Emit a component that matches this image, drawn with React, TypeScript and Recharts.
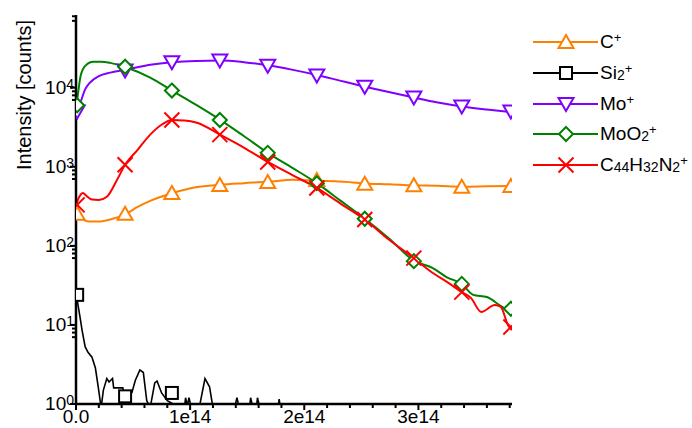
import React from 'react';
import { ComposedChart, Line, XAxis, YAxis, Legend } from 'recharts';

// x values are in units of 1e14
const xTicks = [0, 0.2, 0.4, 0.6, 0.8, 1, 1.2, 1.4, 1.6, 1.8, 2, 2.2, 2.4, 2.6, 2.8, 3, 3.2, 3.4, 3.6, 3.8];
const xLabels = ['0.0', '1e14', '2e14', '3e14'];
const yTicks = [
  1, 7, 8, 9, 10, 70, 80, 90, 100, 700, 800, 900, 1000, 7000, 8000, 9000, 10000, 70000, 80000,
];
const yMajor = [1, 10, 100, 1000, 10000];

const cLine = [
  [0, 265], [0.03, 235], [0.07, 212], [0.12, 203], [0.2, 203], [0.3, 215], [0.43, 250], [0.54, 310],
  [0.66, 375], [0.84, 462], [1.05, 550], [1.26, 592], [1.47, 620], [1.68, 645], [1.9, 685], [2.11, 665],
  [2.32, 650], [2.53, 615], [2.74, 600], [2.96, 582], [3.17, 575], [3.38, 560], [3.6, 565], [3.82, 570],
];
const cMarks = [
  [0.01, 255], [0.43, 255], [0.84, 465], [1.26, 590], [1.68, 640], [2.11, 680], [2.53, 610], [2.96, 585], [3.38, 560], [3.81, 570],
];

const si2Line = [
  [0, 25], [0.02, 17], [0.035, 12.6], [0.053, 8.6], [0.08, 5.3], [0.105, 4.5], [0.14, 3.9], [0.17, 2.85],
  [0.195, 1.64], [0.22, 0.9], [0.24, 1.5], [0.27, 2.1], [0.29, 1.9], [0.32, 2.1], [0.33, 1.6], [0.41, 1.6],
  [0.42, 1.4], [0.49, 1.4], [0.52, 2.0], [0.56, 2.7], [0.59, 2.5], [0.62, 1.1], [0.65, 0.9], [0.69, 1.85],
  [0.71, 1.95], [0.75, 1.38], [0.8, 1.1], [0.85, 1.0], [0.89, 0.9], [0.95, 0.9], [0.96, 1.2], [0.975, 0.95],
  [0.99, 1.2], [1.01, 0.9], [1.08, 0.9], [1.13, 2.1], [1.17, 1.65], [1.2, 0.9], [1.39, 0.9], [1.41, 1.2],
  [1.43, 0.9], [1.52, 0.9], [1.53, 1.2], [1.55, 0.9], [1.58, 0.9], [1.59, 1.2], [1.61, 0.9], [1.77, 0.9],
  [1.78, 1.15], [1.79, 0.9], [3.82, 0.9],
];
const si2Marks = [[0.01, 24], [0.43, 1.25], [0.84, 1.38]];

const moLine = [
  [0, 4500], [0.02, 5600], [0.04, 6600], [0.08, 9500], [0.12, 11500], [0.2, 14000], [0.3, 15500],
  [0.43, 16800], [0.65, 19500], [0.84, 21000], [1.05, 21800], [1.26, 22000], [1.47, 21000], [1.68, 19200],
  [1.9, 16800], [2.11, 14500], [2.32, 12200], [2.53, 10300], [2.74, 8800], [2.96, 7500], [3.17, 6500],
  [3.38, 5800], [3.6, 5300], [3.82, 4900],
];
const moMarks = [
  [0.01, 5000], [0.43, 16500], [0.84, 21000], [1.26, 22000], [1.68, 19000], [2.11, 14300], [2.53, 10300], [2.96, 7500], [3.38, 5800], [3.81, 5000],
];

const moO2Line = [
  [0, 5300], [0.02, 9000], [0.04, 14000], [0.06, 17000], [0.1, 20000], [0.15, 21300], [0.22, 21300],
  [0.3, 20600], [0.43, 18300], [0.65, 13400], [0.84, 9200], [1.05, 6100], [1.26, 3950], [1.47, 2450],
  [1.68, 1500], [1.9, 960], [2.11, 620], [2.32, 370], [2.53, 220], [2.74, 125], [2.96, 65], [3.13, 52],
  [3.25, 40], [3.38, 33], [3.48, 24], [3.6, 22.5], [3.72, 17.4], [3.82, 14.2],
];
const moO2Marks = [
  [0.01, 6000], [0.43, 18400], [0.84, 9200], [1.26, 3900], [1.68, 1500], [2.11, 620], [2.53, 220], [2.96, 64], [3.38, 33], [3.81, 16],
];

const cnLine = [
  [0, 330], [0.03, 420], [0.06, 467], [0.09, 430], [0.14, 385], [0.2, 380], [0.27, 417], [0.36, 686],
  [0.43, 1060], [0.54, 1640], [0.65, 2550], [0.75, 3400], [0.84, 3900], [0.95, 3850], [1.06, 3600],
  [1.26, 2550], [1.47, 1750], [1.68, 1150], [1.9, 780], [2.11, 540], [2.32, 340], [2.53, 215], [2.74, 120],
  [2.96, 70], [3.13, 45], [3.25, 35], [3.38, 26], [3.46, 22], [3.55, 14.6], [3.67, 17.9], [3.72, 17],
  [3.79, 9.6], [3.82, 8.6],
];
const cnMarks = [
  [0.01, 330], [0.43, 1060], [0.84, 3900], [1.26, 2550], [1.68, 1150], [2.11, 540], [2.53, 215], [2.96, 70], [3.38, 26], [3.81, 9.4],
];

const toRows = (pts: number[][]) => pts.map(([x, y]) => ({ x, y }));

const series = [
  { name: 'C+', color: '#FF8000', shape: 'up', line: cLine, marks: cMarks, curve: 'monotone' },
  { name: 'Si2+', color: '#000000', shape: 'square', line: si2Line, marks: si2Marks, curve: 'linear' },
  { name: 'Mo+', color: '#8000FF', shape: 'down', line: moLine, marks: moMarks, curve: 'monotone' },
  { name: 'MoO2+', color: '#008000', shape: 'diamond', line: moO2Line, marks: moO2Marks, curve: 'monotone' },
  { name: 'C44H32N2+', color: '#FF0000', shape: 'cross', line: cnLine, marks: cnMarks, curve: 'monotone' },
];

const FONT = '"Liberation Sans", Arial, sans-serif';

function Marker({ shape, cx, cy, color }: { shape: string; cx: number; cy: number; color: string }) {
  const common = { fill: '#fff', stroke: color, strokeWidth: 2 };
  if (shape === 'up')
    return <polygon points={`${cx},${cy - 7} ${cx + 7.5},${cy + 6} ${cx - 7.5},${cy + 6}`} {...common} />;
  if (shape === 'down')
    return <polygon points={`${cx - 7.5},${cy - 6} ${cx + 7.5},${cy - 6} ${cx},${cy + 7}`} {...common} />;
  if (shape === 'square') return <rect x={cx - 6} y={cy - 6} width={12} height={12} {...common} />;
  if (shape === 'diamond')
    return <polygon points={`${cx},${cy - 7} ${cx + 7},${cy} ${cx},${cy + 7} ${cx - 7},${cy}`} {...common} />;
  return (
    <path d={`M${cx - 7.5},${cy - 7.5}L${cx + 7.5},${cy + 7.5}M${cx - 7.5},${cy + 7.5}L${cx + 7.5},${cy - 7.5}`} stroke={color} strokeWidth={2} fill="none" />
  );
}

const formatName = (name: string) =>
  name
    .split(/(\d+|\+)/)
    .filter(Boolean)
    .map((part, i) => {
      if (part === '+')
        return (
          <span key={i} style={{ fontSize: 13, position: 'relative', top: -6 }}>
            +
          </span>
        );
      if (/\d/.test(part))
        return (
          <span key={i} style={{ fontSize: 14, position: 'relative', top: 1 }}>
            {part}
          </span>
        );
      return <span key={i}>{part}</span>;
    });

const renderLegend = () => (
  <div style={{ fontFamily: FONT, fontSize: 19, color: '#000' }}>
    {series.map((s) => (
      <div key={s.name} style={{ display: 'flex', alignItems: 'center', height: 30.7 }}>
        <svg width={72} height={20} style={{ flex: 'none' }}>
          <line x1={5} x2={70} y1={10} y2={10} stroke={s.color} strokeWidth={2} />
          <Marker shape={s.shape} cx={38} cy={10} color={s.color} />
        </svg>
        <span style={{ whiteSpace: 'nowrap' }}>{formatName(s.name)}</span>
      </div>
    ))}
  </div>
);

const BottomTick = ({ x, y, payload }: any) => {
  const v = payload.value;
  const major = Math.abs(v - Math.round(v)) < 1e-6;
  return (
    <g>
      <line x1={x} x2={x} y1={y} y2={y + (major ? 6 : 4)} stroke="#000" strokeWidth={2} />
      {major && (
        <text x={x} y={y + 19} textAnchor="middle" fontSize={19} fontFamily={FONT} fill="#000">
          {xLabels[Math.round(v)]}
        </text>
      )}
    </g>
  );
};

const TopTick = ({ x, y, payload }: any) => {
  const v = payload.value;
  const major = Math.abs(v - Math.round(v)) < 1e-6;
  return <line x1={x} x2={x} y1={y} y2={y - (major ? 6 : 4)} stroke="#000" strokeWidth={2} />;
};

const LeftTick = ({ x, y, payload }: any) => {
  const v = payload.value;
  const major = yMajor.includes(v);
  return (
    <g>
      <line x1={x - (major ? 6 : 4)} x2={x} y1={y} y2={y} stroke="#000" strokeWidth={2} />
      {major && (
        <text x={x - 2} y={y + 6} textAnchor="end" fontSize={19} fontFamily={FONT} fill="#000">
          10
          <tspan dy={-5} fontSize={14}>
            {Math.round(Math.log10(v))}
          </tspan>
        </text>
      )}
    </g>
  );
};

const YTitle = () => (
  <text transform="rotate(-90)" x={-95} y={31} textAnchor="middle" fontSize={20} fontFamily={FONT} fill="#000">
    Intensity [counts]
  </text>
);

export default function App() {
  return (
    <div style={{ position: 'fixed', left: 0, top: 0, width: 692, height: 428, background: '#fff' }}>
      <ComposedChart width={692} height={428} margin={{ top: 15, right: 180, bottom: 0, left: 16 }}>
        <XAxis
          dataKey="x"
          type="number"
          domain={[0, 3.82]}
          ticks={xTicks}
          interval={0}
          allowDataOverflow
          height={24}
          tickSize={0}
          tickMargin={0}
          tickLine={false}
          tick={(p: any) => <BottomTick {...p} />}
          axisLine={{ stroke: '#000', strokeWidth: 2.5 }}
        />
        <XAxis
          xAxisId="top"
          orientation="top"
          type="number"
          domain={[0, 3.82]}
          ticks={xTicks}
          interval={0}
          allowDataOverflow
          height={0}
          tickSize={0}
          tickMargin={0}
          tickLine={false}
          tick={(p: any) => <TopTick {...p} />}
          axisLine={{ stroke: '#000', strokeWidth: 2.5 }}
        />
        <YAxis
          type="number"
          scale="log"
          domain={[1, 83000]}
          ticks={yTicks}
          interval={0}
          allowDataOverflow
          width={60}
          tickSize={0}
          tickMargin={0}
          tickLine={false}
          tick={(p: any) => <LeftTick {...p} />}
          axisLine={{ stroke: '#000', strokeWidth: 2.5 }}
          label={{ content: () => <YTitle /> }}
        />
        <YAxis
          yAxisId="right"
          orientation="right"
          type="number"
          scale="log"
          domain={[1, 83000]}
          allowDataOverflow
          width={0}
          tick={false}
          tickLine={false}
          axisLine={{ stroke: '#000', strokeWidth: 2.5 }}
        />
        <Legend
          layout="vertical"
          align="center"
          verticalAlign="middle"
          content={renderLegend}
          wrapperStyle={{ left: 528, top: 27, width: 164, bottom: 'auto', right: 'auto' }}
        />
        {series.flatMap((s) => [
          <Line
            key={s.name + '-line'}
            data={toRows(s.line)}
            dataKey="y"
            type={s.curve as any}
            stroke={s.color}
            strokeWidth={s.shape === 'square' ? 1.6 : 2}
            dot={false}
            activeDot={false}
            isAnimationActive={false}
          />,
          <Line
            key={s.name + '-marks'}
            data={toRows(s.marks)}
            dataKey="y"
            stroke="none"
            dot={(p: any) => <Marker key={p.index} shape={s.shape} cx={p.cx} cy={p.cy} color={s.color} />}
            activeDot={false}
            isAnimationActive={false}
          />,
        ])}
      </ComposedChart>
    </div>
  );
}
